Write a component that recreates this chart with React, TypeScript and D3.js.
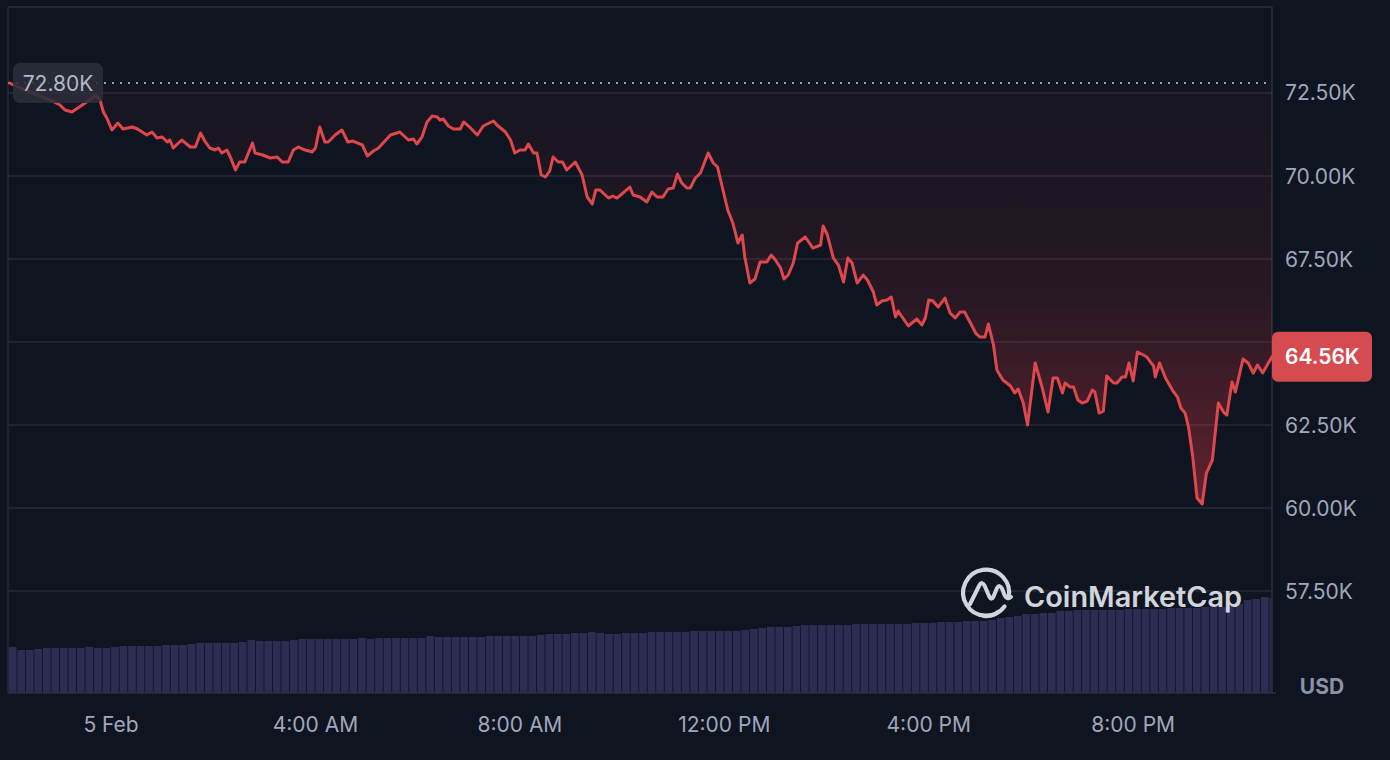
import React from "react";
import * as d3 from "d3";

// minutes relative to 00:00, 5 Feb
const timesMin = [
  -119,-107,-95,-81,-69,-60,-54,-46,-39,-27,
  -18,-13,-9,-5,1,8,14,25,31,42,
  48,54,60,66,69,73,83,93,99,105,
  110,116,122,126,130,136,140,146,151,157,
  166,169,178,187,195,201,208,214,220,228,
  236,240,245,251,255,263,271,278,284,295,
  301,308,314,328,339,349,355,359,365,371,
  377,383,386,390,396,402,410,414,422,430,
  437,449,453,463,469,474,480,486,490,496,
  500,505,510,515,519,525,530,535,545,553,
  559,565,569,574,584,589,594,601,609,613,
  621,629,635,641,648,654,660,665,670,676,
  680,686,692,701,707,712,724,730,736,741,
  744,750,756,762,770,775,780,786,790,795,
  801,806,815,824,833,836,841,848,854,860,
  865,870,876,883,888,895,899,905,911,916,
  921,924,936,946,952,956,960,965,971,979,
  985,991,997,1002,1009,1015,1020,1026,1030,1036,
  1040,1047,1056,1061,1065,1071,1076,1085,1093,1100,
  1106,1111,1117,1120,1126,1130,1135,1140,1146,1152,
  1155,1160,1165,1169,1177,1181,1187,1191,1195,1200,
  1205,1212,1216,1224,1226,1231,1238,1246,1252,1256,
  1261,1265,1270,1275,1281,1286,1293,1300,1306,1310,
  1316,1320,1329,1335,1341,1346,1352,1363
];

// BTC price, USD
const prices = [
  72800,72651,72530,72380,72259,72139,71988,71928,72048,72259,
  72440,72289,71928,71747,71386,71596,71416,71476,71416,71235,
  71325,71145,71175,71024,71084,70843,71084,70873,70873,71295,
  71054,70843,70783,70843,70693,70783,70572,70181,70422,70422,
  70994,70693,70633,70542,70572,70422,70422,70783,70873,70783,
  70723,70843,71476,71024,71024,71235,71386,71024,71054,70934,
  70602,70753,70843,71235,71325,71084,71115,70964,71175,71627,
  71807,71777,71687,71717,71506,71416,71416,71627,71446,71235,
  71506,71657,71536,71325,71084,70693,70783,70783,70964,70693,
  70693,70030,69970,70151,70572,70422,70422,70181,70422,70030,
  69368,69157,69578,69578,69337,69398,69337,69488,69669,69428,
  69368,69217,69518,69368,69368,69609,69639,70060,69789,69639,
  69639,69940,70090,70693,70392,70271,68976,68584,67982,68223,
  67560,66777,66898,67410,67410,67621,67470,67229,66898,67018,
  67380,67982,68163,67831,67922,68494,68223,67530,67319,66807,
  67530,67380,66777,67018,66868,66506,66115,66235,66265,66356,
  65753,65934,65482,65693,65512,65723,66265,66235,66054,66325,
  65874,65723,65904,65904,65572,65271,65151,65151,65542,64910,
  64157,63856,63675,63464,63584,63163,62500,64368,63645,62892,
  63916,63916,63464,63765,63645,63645,63253,63163,63223,63554,
  63494,62862,62922,63976,63765,63765,63946,63946,64368,63826,
  64699,64609,64548,64277,63946,64368,63916,63554,63344,63012,
  62862,62440,61536,60301,60121,61054,61446,63163,62892,62801,
  63795,63494,64488,64368,64066,64307,64066,64560
];

// volume buckets, 10 minutes each, first bucket starts at 22:00 (4 Feb)
const volStartMin = -120;
const volStepMin = 10;
const volumes = [
  46,43,43,44,45,45,45,45,45,46,
  45,45,46,47,47,47,47,47,48,48,
  48,49,50,50,50,50,50,51,53,52,
  52,52,52,53,54,54,54,54,54,54,
  54,55,54,55,55,55,55,55,55,57,
  56,56,56,56,56,56,57,57,57,57,
  57,57,58,59,59,59,60,60,61,60,
  59,59,60,60,60,61,61,61,61,61,
  62,62,62,62,62,62,63,64,65,66,
  66,66,67,68,68,68,68,68,68,69,
  69,69,69,69,69,69,70,70,70,71,
  71,71,72,72,72,73,75,76,77,79,
  79,80,80,82,82,83,83,83,83,83,
  83,84,84,84,84,84,85,85,85,85,
  86,86,86,87,89,93,94,96,95
];

const yTicks = [57500, 60000, 62500, 65000, 67500, 70000, 72500];
// the 65.00K label sits under the last-price badge in the reference
const yTickLabels = ["57.50K", "60.00K", "62.50K", "", "67.50K", "70.00K", "72.50K"];
const xTicksMin = [0, 240, 480, 720, 960, 1200];
const xTickLabels = ["5 Feb", "4:00 AM", "8:00 AM", "12:00 PM", "4:00 PM", "8:00 PM"];
const openPrice = 72800;
const openLabel = "72.80K";
const lastPrice = 64560;
const lastLabel = "64.56K";

const FONT = "Inter, 'Noto Sans', sans-serif";

export default function App() {
  const W = 1390, H = 760;
  const left = 8, right = 1272, top = 7, bottom = 693;
  const base = new Date(2026, 1, 5, 0, 0, 0).getTime();
  const toDate = (m: number) => new Date(base + m * 60000);

  const x = d3.scaleTime().domain([toDate(-121), toDate(1363)]).range([left, right]);
  const y = d3.scaleLinear().domain([54430, 75090]).range([bottom, top]);
  const yv = d3.scaleLinear().domain([0, 100]).range([bottom, bottom - 100]);

  const n = Math.min(timesMin.length, prices.length);
  const data = d3.range(n).map((i) => ({ d: toDate(timesMin[i]), p: prices[i] }));

  const line = d3.line<any>().x((d) => x(d.d)).y((d) => y(d.p));
  const area = d3.area<any>().x((d) => x(d.d)).y0(y(openPrice)).y1((d) => y(d.p));
  const minP = d3.min(prices) as number;

  const bars = volumes.map((v, i) => {
    const t0 = volStartMin + i * volStepMin;
    const x0 = x(toDate(t0));
    const x1 = Math.min(x(toDate(t0 + volStepMin)), right);
    return { x0, w: Math.max(0, x1 - x0 - 0.8), y: yv(v), h: bottom - yv(v) };
  });

  const red = "#de474c";
  const gray = "#a1a7bb";
  const grid = "#262a36";
  const yOpen = y(openPrice);
  const yLast = y(lastPrice);

  return (
    <div>
      <style>{`html,body{margin:0;padding:0;background:#0e1420;overflow:hidden}`}</style>
      <svg width={W} height={H} style={{ display: "block", background: "#0e1420" }}>
        <defs>
          <linearGradient id="areaGrad" gradientUnits="userSpaceOnUse" x1={0} y1={yOpen} x2={0} y2={y(minP)}>
            <stop offset="0" stopColor="#ea3943" stopOpacity={0.03} />
            <stop offset="0.5" stopColor="#ea3943" stopOpacity={0.11} />
            <stop offset="1" stopColor="#ea3943" stopOpacity={0.38} />
          </linearGradient>
          <clipPath id="plotClip">
            <rect x={left} y={top} width={right - left} height={bottom - top} />
          </clipPath>
        </defs>

        {/* grid */}
        {yTicks.map((t) => (
          <line key={t} x1={left} x2={right} y1={y(t)} y2={y(t)} stroke={grid} strokeWidth={1.5} />
        ))}
        {/* frame */}
        <line x1={left} x2={right} y1={top} y2={top} stroke="#2c303d" strokeWidth={1.5} />
        <line x1={left} x2={left} y1={top} y2={bottom} stroke="#262a36" strokeWidth={1.5} />
        <line x1={right} x2={right} y1={top} y2={bottom} stroke="#2c303d" strokeWidth={1.5} />
        <line x1={left} x2={right + 4} y1={bottom} y2={bottom} stroke="#2c303d" strokeWidth={1.5} />

        {/* volume */}
        <g clipPath="url(#plotClip)">
          {bars.map((b, i) => (
            <rect key={i} x={b.x0} y={b.y} width={b.w} height={b.h} fill="#2b2e52" />
          ))}
        </g>

        {/* area + line */}
        <g clipPath="url(#plotClip)">
          <path d={area(data) || ""} fill="url(#areaGrad)" />
          <line x1={left} x2={right} y1={yOpen} y2={yOpen} stroke="#b4b9c8" strokeWidth={2} strokeDasharray="2 6" opacity={0.85} />
          <path d={line(data) || ""} fill="none" stroke={red} strokeWidth={3} strokeLinejoin="round" strokeLinecap="round" />
        </g>

        {/* open price label */}
        <rect x={13} y={yOpen - 20} width={90} height={40} rx={7} fill="#2b2f3a" opacity={0.88} />
        <text x={58} y={yOpen} textAnchor="middle" dominantBaseline="central" fontFamily={FONT} fontSize={21} fill="#b3b8c6">
          {openLabel}
        </text>

        {/* logo */}
        <g opacity={0.92}>
          <path
            d={`M ${1004.5} ${606.5} A 23 23 0 1 1 ${1008.5} ${598}`}
            fill="none" stroke="#e3e5ec" strokeWidth={4.2} strokeLinecap="round"
          />
          <path
            d={`M ${998} ${612} Q 992 617 984 616`}
            fill="none" stroke="#e3e5ec" strokeWidth={4.2} strokeLinecap="round"
          />
          <path
            d="M 970 604 L 979.5 585 Q 982 581 984.5 585.5 L 989.5 597 Q 991.5 600.5 993.5 596.5 L 997 588 Q 999.5 584 1002 588.5 L 1004.5 595 Q 1007 600 1011 597"
            fill="none" stroke="#e3e5ec" strokeWidth={4} strokeLinecap="round" strokeLinejoin="round"
          />
          <text x={1024} y={607} fontFamily={FONT} fontWeight={600} fontSize={28} fill="#e3e5ec" textLength={218} lengthAdjust="spacingAndGlyphs">
            CoinMarketCap
          </text>
        </g>

        {/* y axis labels */}
        {yTicks.map((t, i) =>
          yTickLabels[i] ? (
            <text key={t} x={1285} y={y(t)} dominantBaseline="central" fontFamily={FONT} fontSize={21} fill={gray}>
              {yTickLabels[i]}
            </text>
          ) : null
        )}

        {/* last price badge */}
        <rect x={right} y={yLast - 25} width={100} height={50} rx={6} fill="#d64b4f" />
        <text x={1285} y={yLast} dominantBaseline="central" fontFamily={FONT} fontWeight={600} fontSize={21} fill="#ffffff">
          {lastLabel}
        </text>

        {/* x axis labels */}
        {xTicksMin.map((t, i) => (
          <text key={t} x={x(toDate(t))} y={724} textAnchor="middle" dominantBaseline="central" fontFamily={FONT} fontSize={21} fill={gray}>
            {xTickLabels[i]}
          </text>
        ))}

        <text x={1322} y={686} textAnchor="middle" dominantBaseline="central" fontFamily={FONT} fontWeight={700} fontSize={21} fill="#8c92a6">
          USD
        </text>
      </svg>
    </div>
  );
}
